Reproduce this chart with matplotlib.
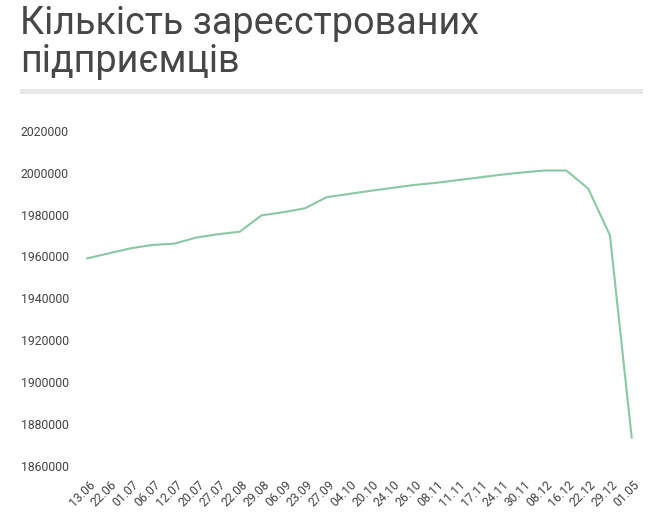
import matplotlib
matplotlib.use("Agg")
import matplotlib.pyplot as plt
from matplotlib.patches import Rectangle
from matplotlib.transforms import ScaledTranslation

plt.rcParams['font.family'] = ['Roboto', 'DejaVu Sans']

title_lines = ["Кількість зареєстрованих", "підприємців"]

dates = ["13.06", "22.06", "01.07", "06.07", "12.07", "20.07", "27.07", "22.08",
         "29.08", "06.09", "23.09", "27.09", "04.10", "20.10", "24.10", "26.10",
         "08.11", "11.11", "17.11", "24.11", "30.11", "08.12", "16.12", "22.12",
         "29.12", "01.05"]

values = [1959100, 1961500, 1963900, 1965500, 1966100, 1969000, 1970600, 1971800,
          1979600, 1981100, 1983000, 1988300, 1989800, 1991300, 1992700, 1994100,
          1995100, 1996400, 1997700, 1999000, 2000100, 2001000, 2001000, 1992400,
          1970100, 1873500]

yticks = [1860000, 1880000, 1900000, 1920000, 1940000, 1960000, 1980000, 2000000, 2020000]

W, H = 654, 529
fig = plt.figure(figsize=(W / 100, H / 100), dpi=100)

# Title
fig.text(20.5 / W, 1 - 34.3 / H, title_lines[0], fontsize=27.2, color='#474747',
         ha='left', va='baseline')
fig.text(20.5 / W, 1 - 71.7 / H, title_lines[1], fontsize=27.2, color='#474747',
         ha='left', va='baseline')

# Grey rule
fig.patches.append(Rectangle((20 / W, 1 - 93.7 / H), (643 - 20) / W, 4.4 / H,
                             transform=fig.transFigure, facecolor='#e8e8e8',
                             edgecolor='none'))

left, right = 87.3 / W, 631.7 / W
bottom, top = 1 - 466 / H, 1 - 130.7 / H
ax = fig.add_axes([left, bottom, right - left, top - bottom])

x = list(range(len(dates)))
ax.plot(x, values, color='#8ac7a3', linewidth=1.5, clip_on=False,
        solid_joinstyle='miter')

ax.set_xlim(0, len(dates) - 1)
ax.set_ylim(yticks[0], yticks[-1])
ax.set_yticks(yticks)
ax.set_yticklabels([str(v) for v in yticks])
ax.set_xticks(x)
ax.set_xticklabels(dates, rotation=45, ha='right', va='top', rotation_mode='anchor')

for s in ax.spines.values():
    s.set_visible(False)
ax.tick_params(axis='both', length=0, colors='#444444', labelsize=8.8)
ax.tick_params(axis='y', pad=(87.3 - 20.5) * 0.72)
for lab in ax.get_yticklabels():
    lab.set_horizontalalignment('left')
ax.tick_params(axis='x', pad=12 * 0.72)
off = ScaledTranslation(1.5 / 100, 0, fig.dpi_scale_trans)
for lab in ax.get_xticklabels():
    lab.set_transform(lab.get_transform() + off)

fig.savefig("out.png", dpi=100, facecolor='white')
